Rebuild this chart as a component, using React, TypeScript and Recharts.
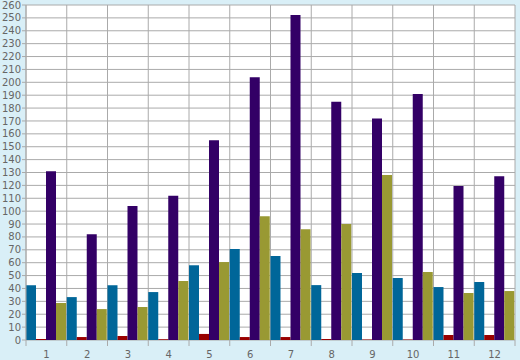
import { BarChart, Bar, XAxis, YAxis, CartesianGrid } from 'recharts';

const CATEGORIES = ['1', '2', '3', '4', '5', '6', '7', '8', '9', '10', '11', '12'];
const BLUE = [42.5, 33.3, 42.5, 37.2, 58, 70.6, 65.2, 42.6, 52, 48.1, 41.1, 45];
const RED = [0.8, 2.3, 3.1, 0.6, 4.7, 2.3, 2.3, 0.8, 0.4, 0.4, 3.9, 3.9];
const PURPLE = [131, 82, 104, 112, 155, 204, 252.3, 185, 172, 191, 119.5, 127];
const OLIVE = [28.7, 24, 25.6, 45.8, 60.5, 96, 86, 90, 128, 52.8, 36.5, 38];
const Y_TICKS = Array.from({ length: 27 }, (_, i) => i * 10);

const data = CATEGORIES.map((name, i) => ({
  name,
  blue: BLUE[i],
  red: RED[i],
  purple: PURPLE[i],
  olive: OLIVE[i],
}));

const W = 520;
const H = 360;
const MARGIN = { top: 5, right: 5, left: 0, bottom: 0 };
const Y_WIDTH = 26;
const TEXT = '#666666';
const GRID = '#aaaaaa';

const bandWidth = (W - MARGIN.left - MARGIN.right - Y_WIDTH) / CATEGORIES.length;

function XTick(props: any) {
  const { x, y, payload, index } = props;
  const half = payload?.offset || bandWidth / 2;
  const last = index === CATEGORIES.length - 1;
  return (
    <g>
      <line x1={x - half} x2={x - half} y1={y - 6} y2={y} stroke={GRID} />
      {last && <line x1={x + half} x2={x + half} y1={y - 6} y2={y} stroke={GRID} />}
      <text x={x} y={y} dy={12} textAnchor="middle" fill={TEXT} fontSize={10} fontFamily="DejaVu Sans">
        {payload.value}
      </text>
    </g>
  );
}

export default function App() {
  return (
    <div style={{ width: W, height: H, background: '#d9eff7' }}>
      <style>{`body{margin:0}`}</style>
      <BarChart width={W} height={H} data={data} margin={MARGIN} barCategoryGap={0} barGap={0}>
        <CartesianGrid
          stroke={GRID}
          fill="#ffffff"
          fillOpacity={1}
          verticalCoordinatesGenerator={({ offset }: any) =>
            CATEGORIES.map((_c, i) => offset.left + (i * offset.width) / CATEGORIES.length).concat(
              offset.left + offset.width
            )
          }
        />
        <XAxis
          dataKey="name"
          height={20}
          axisLine={false}
          tickLine={false}
          tickSize={6}
          tickMargin={0}
          interval={0}
          tick={<XTick />}
        />
        <YAxis
          width={Y_WIDTH}
          domain={[0, 260]}
          ticks={Y_TICKS}
          interval={0}
          axisLine={{ stroke: GRID }}
          tickLine={{ stroke: GRID }}
          tickSize={4}
          tickMargin={1}
          tick={{ fill: TEXT, fontSize: 10, fontFamily: 'DejaVu Sans' }}
        />
        <Bar dataKey="blue" fill="#006699" isAnimationActive={false} />
        <Bar dataKey="red" fill="#990000" isAnimationActive={false} />
        <Bar dataKey="purple" fill="#330066" isAnimationActive={false} />
        <Bar dataKey="olive" fill="#999933" isAnimationActive={false} />
      </BarChart>
    </div>
  );
}
